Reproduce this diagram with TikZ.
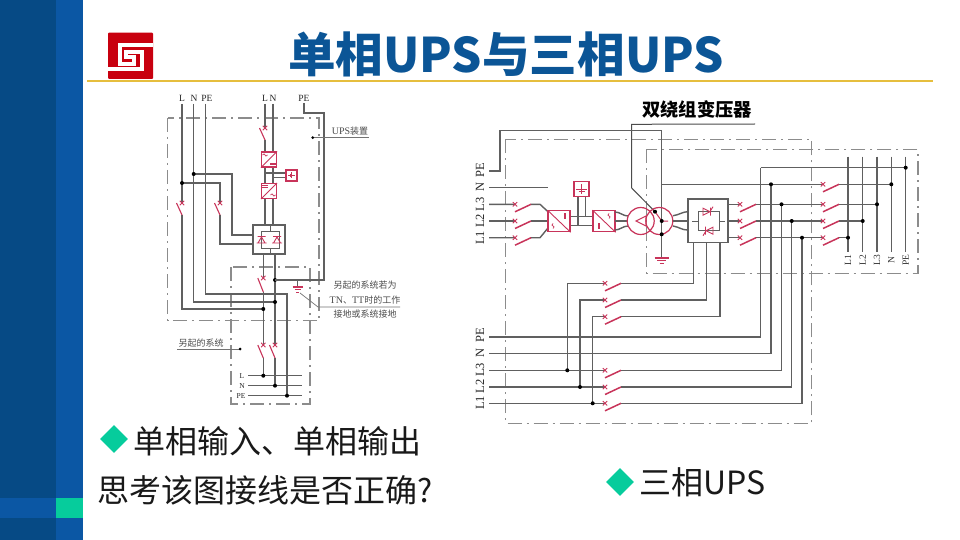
\documentclass[tikz,border=0pt]{standalone}
\usepackage{fontspec}
\setmainfont{Liberation Serif}
\newfontfamily\cjk{Noto Sans CJK SC}
\usetikzlibrary{calc,shapes.geometric}
\definecolor{banddark}{HTML}{064A85}
\definecolor{bandlight}{HTML}{0B57A4}
\definecolor{accent}{HTML}{06CC9C}
\definecolor{titleblue}{HTML}{0B5596}
\definecolor{logored}{HTML}{C8000F}
\definecolor{rulegold}{HTML}{E6BE3E}
\definecolor{wirec}{HTML}{606060}
\definecolor{dashc}{HTML}{8C8C8C}
\definecolor{redc}{HTML}{C8345A}
\tikzset{
  wire/.style={draw=wirec,line width=1.4pt,line join=miter},
  thin wire/.style={draw=wirec,line width=1pt},
  frame/.style={draw=dashc,line width=1.2pt,dash pattern=on 14pt off 5pt on 2pt off 5pt},
  redline/.style={draw=redc,line width=1pt},
  slash/.style={draw=redc,line width=1.5pt},
  conn/.style={circle,fill=black,inner sep=0pt,minimum size=4pt},
  redbox/.style={draw=redc,line width=1.1pt,fill=white,inner sep=0pt},
  greybox/.style={draw=wirec,line width=1.4pt,fill=white,inner sep=0pt},
  lab/.style={font=\fontsize{9.5}{9.5}\selectfont,text=black!85,inner sep=0pt},
  lab2/.style={font=\fontsize{12.5}{12.5}\selectfont,text=black!85,inner sep=0pt,rotate=90},
  lab3/.style={font=\fontsize{9.5}{9.5}\selectfont,text=black!80,inner sep=0pt,rotate=90},
  smallcjk/.style={font=\cjk\fontsize{9}{9}\selectfont,text=black!70,inner sep=0pt},
  big/.style={font=\cjk\fontsize{32}{32}\selectfont,text=black!90,inner sep=0pt,anchor=west},
  mark diamond/.style={diamond,fill=accent,inner sep=0pt,minimum width=28pt,minimum height=28pt},
}
% x mark of a breaker
\newcommand{\xmk}[2]{\draw[redline,line width=.9pt] (#1-2.2,#2-2.2)--(#1+2.2,#2+2.2) (#1-2.2,#2+2.2)--(#1+2.2,#2-2.2);}
% horizontal breaker: mark at (x,y), blade up to (x+16,y)
\newcommand{\swH}[2]{\xmk{#1}{#2}\draw[slash] (#1,#2+7.5)--(#1+16,#2);}
% vertical breaker: mark at (x,ytop), blade from left of it to (x,ybot)
\newcommand{\swV}[3]{\xmk{#1}{#2}\draw[slash,line width=1.1pt] (#1-5.5,#2)--(#1,#3);}
% converter: name, cx, cy, w, h, direction of diagonal (1 = /, -1 = \)
\newcommand{\conv}[6]{%
  \node[redbox,minimum width=#4pt,minimum height=#5pt] (#1) at (#2,#3) {};
  \ifnum#6=1
    \draw[redline,line width=.9pt] (#1.south west)--(#1.north east);
  \else
    \draw[redline,line width=.9pt] (#1.north west)--(#1.south east);
  \fi}
\newcommand{\tild}[2]{\draw[redline,line width=.7pt] (#1-2.5,#2) .. controls (#1-1.2,#2-1.6) and (#1-.5,#2-1.2) .. (#1,#2) .. controls (#1+.5,#2+1.2) and (#1+1.2,#2+1.6) .. (#1+2.5,#2);}
\newcommand{\tildV}[2]{\draw[redline,line width=.7pt] (#1,#2-2.5) .. controls (#1-1.6,#2-1.2) and (#1-1.2,#2-.5) .. (#1,#2) .. controls (#1+1.2,#2+.5) and (#1+1.6,#2+1.2) .. (#1,#2+2.5);}
\newcommand{\eqH}[2]{\draw[redline,line width=.7pt] (#1-3,#2-.8)--(#1+3,#2-.8) (#1-3,#2+.8)--(#1+3,#2+.8);}
\newcommand{\eqV}[2]{\draw[redline,line width=.7pt] (#1-.8,#2-3)--(#1-.8,#2+3) (#1+.8,#2-3)--(#1+.8,#2+3);}
% thyristors
\newcommand{\thyR}[2]{\draw[redline,line width=.9pt] (#1-4,#2-3.5)--(#1+3,#2)--(#1-4,#2+3.5)--cycle (#1+3.5,#2-4)--(#1+3.5,#2+4) (#1+3.5,#2-1)--(#1+6,#2-5);}
\newcommand{\thyL}[2]{\draw[redline,line width=.9pt] (#1+4,#2-3.5)--(#1-3,#2)--(#1+4,#2+3.5)--cycle (#1-3.5,#2-4)--(#1-3.5,#2+4) (#1-3.5,#2+1)--(#1-6,#2+5);}
\newcommand{\thyU}[2]{\draw[redline,line width=.9pt] (#1-3.5,#2+3)--(#1,#2-3)--(#1+3.5,#2+3)--cycle (#1-4,#2-3.5)--(#1+4,#2-3.5) (#1-5,#2+3)--(#1+5,#2+3);}
\newcommand{\grnd}[3]{\draw[redline,line width=1.1pt] (#1-#3,#2)--(#1+#3,#2) (#1-.62*#3,#2+2.6)--(#1+.62*#3,#2+2.6) (#1-.28*#3,#2+5.2)--(#1+.28*#3,#2+5.2);}
\begin{document}
\begin{tikzpicture}[x=1pt,y=-1pt]
\useasboundingbox (0,0) rectangle (960,540);
\fill[white] (0,0) rectangle (960,540);
% ---- slide chrome
\fill[banddark] (0,0) rectangle (56,540);
\fill[bandlight] (56,0) rectangle (83,540);
\fill[bandlight] (0,498) rectangle (56,518);
\fill[accent] (56,498) rectangle (83,518);
\fill[logored,rounded corners=1pt] (108,32.7) rectangle (153,79);
\draw[white,line width=4pt,miter limit=10] (153,45.5)--(119.5,45.5)--(119.5,64)--(134,64)--(134,57)--(126,57)--(126,52)--(142,52)--(142,69)--(108,69);
\draw[rulegold,line width=2pt] (87,81.5)--(933,81.5);
\node[font=\cjk\bfseries\fontsize{47.6}{47.6}\selectfont,text=titleblue,inner sep=0pt] (title) at (506,54) {单相UPS与三相UPS};
\node[mark diamond] (d1) at (114,439) {};
\node[big] (t1) at (133,441) {单相输入、单相输出};
\node[big] (t2) at (97,490) {思考该图接线是否正确?};
\node[mark diamond] (d2) at (620,482) {};
\node[big] (t3) at (639,482) {三相UPS};

% ======== LEFT DIAGRAM ========
\draw[frame] (167.5,118) rectangle (319,320.7);
\draw[frame] (231,267) rectangle (310,404);
\node[lab] (lL) at (182,98) {L};
\node[lab] (lN) at (194,98) {N};
\node[lab] (lPE) at (207,98) {PE};
\node[lab] (rL) at (265,98) {L};
\node[lab] (rN) at (273,98) {N};
\node[lab] (rPE) at (304,98) {PE};
% feeders
\draw[wire] (182,104)--(182,203) (182,215)--(182,309)--(263,309);
\draw[wire] (193.7,104)--(193.7,302)--(275,302);
\draw[wire] (205.5,104)--(205.5,294)--(287,294)--(287,395.7);
\draw[wire] (182,183)--(220,183)--(220,203) (220,215)--(220,244)--(253,244);
\draw[wire] (193.7,174)--(232,174)--(232,235)--(253,235);
\draw[wire] (265,104)--(265,128) (265,140)--(265,225);
\draw[wire] (273,104)--(273,225);
\node[conn] at (182,183) {};
\node[conn] at (193.7,174) {};
\swV{182}{203}{215}
\swV{220}{203}{215}
\swV{265}{128}{140}
% UPS path
\conv{cA}{269}{159.5}{15}{15}{1}
\conv{cB}{269}{191}{15}{15}{1}
\tild{265}{155}\eqH{273}{164}\eqH{265}{186.5}\tild{273}{195}
\node[redbox,minimum width=11pt,minimum height=11pt] (batL) at (291.5,175.5) {};
\draw[wire,line width=1.1pt] (265,173)--(batL.west|-265,173) (273,177.7)--(batL.west|-273,177.7);
\draw[redline,line width=.8pt] (288,175.5)--(295,175.5) (291.5,172.5)--(291.5,178.5) (290,174)--(290,177);
\node[greybox,minimum width=32pt,minimum height=29pt] (stsw) at (269,239.5) {};
\draw[thin wire] (270,225)--(270,231) (261,231)--(279,231)--(279,248)--(261,248)--cycle (270,248)--(270,254);
\thyU{261.5}{240}
\thyU{277}{240}
% lower part
\draw[wire] (263.3,254)--(263.3,278) (263.3,292)--(263.3,345) (263.3,358)--(263.3,375.7);
\draw[wire] (275,254)--(275,345) (275,358)--(275,385.7);
\swV{263.3}{278}{292}
\swV{263.3}{345}{358}
\swV{275}{345}{358}
\draw[wire] (248,375.7)--(302,375.7) (248,385.7)--(302,385.7) (248,395.7)--(302,395.7);
\node[conn] at (263.3,309) {};
\node[conn] at (275,302) {};
\node[conn] at (263.3,375.7) {};
\node[conn] at (275,385.7) {};
\node[conn] at (287,395.7) {};
\node[conn] at (275,280) {};
\node[lab,font=\fontsize{7.5}{7.5}\selectfont] (bL) at (242,375.7) {L};
\node[lab,font=\fontsize{7.5}{7.5}\selectfont] (bN) at (242,385.7) {N};
\node[lab,font=\fontsize{7.5}{7.5}\selectfont] (bPE) at (241,395.7) {PE};
\draw[wire] (304,103)--(304,113)--(324,113)--(324,280)--(275,280);
\draw[wire,line width=1pt] (297.7,280)--(297.7,286);
\grnd{297.7}{287}{5}
\draw[draw=black!55,line width=.7pt] (300,293)--(318,307)--(400,307);
\node[smallcjk] (n1) at (365,285) {另起的系统若为};
\node[smallcjk] (n2) at (365,300) {{\fontsize{10}{10}\rmfamily TN}、{\fontsize{10}{10}\rmfamily TT}时的工作};
\node[smallcjk] (n3) at (365,314) {接地或系统接地};
\node[smallcjk,font=\fontsize{10}{10}\selectfont] (ups) at (350,131) {UPS{\cjk\fontsize{9}{9}\selectfont 装置}};
\draw[draw=black!55,line width=.9pt] (312.7,137.7)--(369,137.7);
\node[conn,minimum size=3pt] at (312.7,137.7) {};
\node[smallcjk] (other) at (201,342.7) {另起的系统};
\draw[draw=black!55,line width=.9pt] (177,349)--(240,349);
\node[conn,minimum size=3pt] at (240,349) {};

% ======== RIGHT DIAGRAM ========
\draw[frame] (505.7,139.3) rectangle (811.7,423.3);
\draw[frame] (646.7,149.3) rectangle (918,273.3);
\node[font=\cjk\bfseries\fontsize{18.3}{18.3}\selectfont,inner sep=0pt] (xfmr) at (697,109.5) {双绕组变压器};
\draw[draw=black!70,line width=1pt] (755,124)--(631.7,124.3)--(631.7,188)--(655,211.7);
\node[lab2] at (480,170) {PE};
\node[lab2] at (480,187) {N};
\node[lab2] at (480,204.3) {L3};
\node[lab2] at (480,221) {L2};
\node[lab2] at (480,237.7) {L1};
\draw[wire] (489,171)--(500,171)--(500,130.7)--(661.7,130.7)--(661.7,256.7);
\grnd{661.7}{258}{7}
\draw[wire] (489,187.7)--(548,187.7);
\draw[wire] (489,204.3)--(515,204.3) (530.7,204.3)--(540,204.3)--(548,211.7);
\draw[wire] (489,221)--(515,221) (530.7,221)--(548,221);
\draw[wire] (489,237.7)--(515,237.7) (530.7,237.7)--(540,237.7)--(548,228);
\swH{515}{204.3}\swH{515}{221}\swH{515}{237.7}
\conv{cC}{559}{221.2}{22}{21}{-1}
\conv{cD}{604}{221.2}{22}{21}{-1}
\tildV{553}{226}\eqV{565}{216}\eqV{599}{226}\tildV{609}{216}
\node[redbox,minimum width=15pt,minimum height=15pt] (batR) at (581.5,189.2) {};
\draw[wire] (cC.east|-570,216.7)--(cD.west|-593,216.7) (cC.east|-570,225.7)--(cD.west|-593,225.7);
\draw[wire] (578,196.7)--(578,225.7) (585.7,196.7)--(585.7,216.7);
\draw[redline,line width=.8pt] (576,189)--(587,189) (581.5,184)--(581.5,194) (578.5,191)--(584.5,191);
% transformer
\draw[wire] (615,212) .. controls (620,212) and (623,216) .. (628,216);
\draw[wire] (615,221)--(628,221);
\draw[wire] (615,230) .. controls (620,230) and (623,226) .. (628,226);
\draw[redline,line width=1.2pt] (640.7,221) circle (13.5);
\draw[redline,line width=1.2pt] (659.3,221) circle (13.5);
\draw[redline] (636,221)--(646,216)--(646,226)--cycle;
\draw[redline] (661.7,221)--(655,211.7) (661.7,221)--(668,221);
\draw[wire] (661.7,221)--(661.7,234.3);
\node[conn] at (655,211.7) {};
\node[conn] at (661.7,221) {};
\node[conn] at (661.7,234.3) {};
\node[greybox,minimum width=40pt,minimum height=43.7pt] (rect) at (708,220.8) {};
\draw[wire] (673,215.7) .. controls (679,215) and (682,212) .. (rect.west|-687.7,211.7);
\draw[wire] (673,221)--(rect.west|-687.7,221);
\draw[wire] (673,226) .. controls (679,227) and (682,230) .. (rect.west|-687.7,230);
\draw[thin wire] (692,221)--(698,221) (698,211.7) rectangle (719,230.7) (719,221)--(725,221);
\thyR{707}{211.7}
\thyL{709}{230.7}
% output wires
\draw[wire] (rect.east|-728,204.3)--(740,204.3) (755.7,204.3)--(823,204.3) (839,204.3)--(877,204.3);
\draw[wire] (rect.east|-728,221)--(740,221) (755.7,221)--(823,221) (839,221)--(862.7,221);
\draw[wire] (rect.east|-728,237.7)--(740,237.7) (755.7,237.7)--(823,237.7) (839,237.7)--(848,237.7);
\draw[wire] (661.7,184.3)--(823,184.3) (839,184.3)--(891.3,184.3);
\draw[wire] (760.7,167.7)--(905.7,167.7);
\swH{740}{204.3}\swH{740}{221}\swH{740}{237.7}
\swH{823}{184.3}\swH{823}{204.3}\swH{823}{221}\swH{823}{237.7}
\foreach \bx in {848,862.7,877,891.3,905.7} \draw[wire] (\bx,156.7)--(\bx,251.7);
\node[lab3] at (848,260) {L1};
\node[lab3] at (862.7,260) {L2};
\node[lab3] at (877,260) {L3};
\node[lab3] at (891.3,260) {N};
\node[lab3] at (905.7,260) {PE};
\node[conn] at (848,237.7) {};
\node[conn] at (862.7,221) {};
\node[conn] at (877,204.3) {};
\node[conn] at (891.3,184.3) {};
\node[conn] at (905.7,167.7) {};
% risers
\draw[wire] (760.7,167.7)--(760.7,337)--(489,337);
\draw[wire] (771,184.3)--(771,353.7)--(489,353.7);
\draw[wire] (781.5,204.3)--(781.5,370.3)--(621,370.3) (605,370.3)--(489,370.3);
\draw[wire] (791.7,221)--(791.7,387)--(621,387) (605,387)--(489,387);
\draw[wire] (802,237.7)--(802,403.3)--(621,403.3) (605,403.3)--(489,403.3);
\node[conn] at (771,184.3) {};
\node[conn] at (781.5,204.3) {};
\node[conn] at (791.7,221) {};
\node[conn] at (802,237.7) {};
% bypass
\draw[wire] (567.3,370.3)--(567.3,283.3)--(605,283.3) (621,283.3)--(693.3,283.3)--(693.3,283.3|-rect.south);
\draw[wire] (580,387)--(580,300)--(605,300) (621,300)--(706.7,300)--(706.7,300|-rect.south);
\draw[wire] (592.7,403.3)--(592.7,316.7)--(605,316.7) (621,316.7)--(720,316.7)--(720,316.7|-rect.south);
\swH{605}{283.3}\swH{605}{300}\swH{605}{316.7}
\swH{605}{370.3}\swH{605}{387}\swH{605}{403.3}
\node[conn] at (567.3,370.3) {};
\node[conn] at (580,387) {};
\node[conn] at (592.7,403.3) {};
\node[lab2] at (480,335) {PE};
\node[lab2] at (480,353) {N};
\node[lab2] at (480,370) {L3};
\node[lab2] at (480,386.5) {L2};
\node[lab2] at (480,403) {L1};
\end{tikzpicture}
\end{document}
